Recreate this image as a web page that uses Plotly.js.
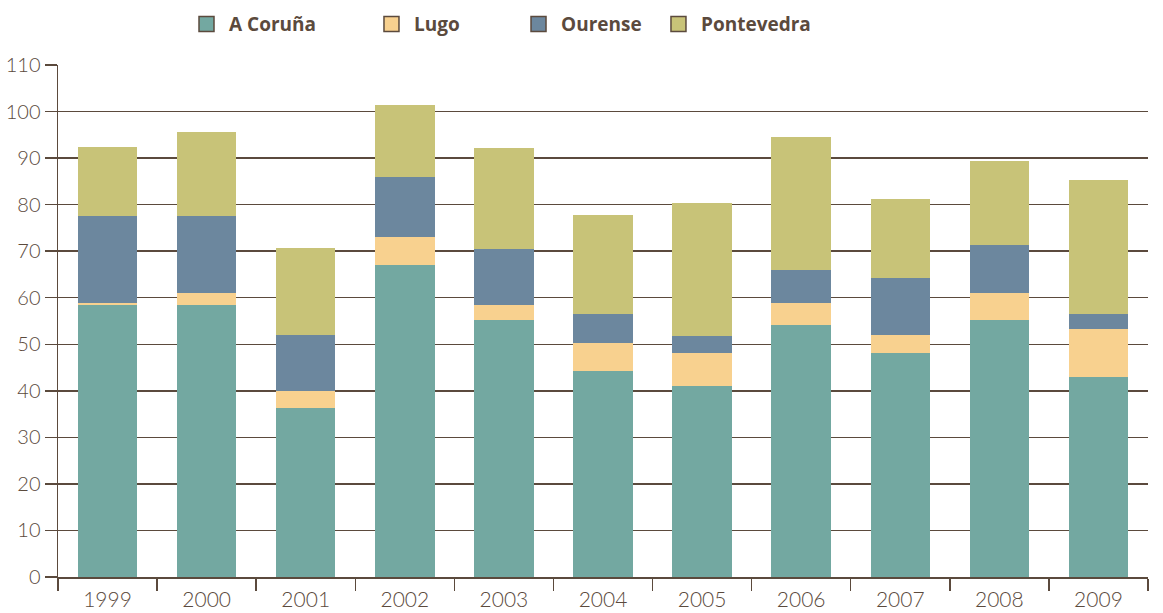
<!DOCTYPE html>
<html>
<head>
<meta charset="utf-8">
<script src="https://cdn.plot.ly/plotly-3.0.1.min.js"></script>
<style>
html, body { margin: 0; padding: 0; background: #ffffff; }
#chart { width: 1163px; height: 613px; }
</style>
</head>
<body>
<div id="chart"></div>
<script>
const years = ["1999", "2000", "2001", "2002", "2003", "2004", "2005", "2006", "2007", "2008", "2009"];
const seriesNames = ["A Coruña", "Lugo", "Ourense", "Pontevedra"];
const aCoruna    = [58.5, 58.5, 36.3, 67.1, 55.3, 44.3, 41.1, 54.2, 48.2, 55.3, 43.0];
const lugo       = [0.4, 2.6, 3.7, 6.0, 3.2, 6.0, 7.1, 4.7, 3.9, 5.8, 10.3];
const ourense    = [18.6, 16.4, 12.0, 12.9, 11.9, 6.1, 3.6, 7.1, 12.2, 10.3, 3.1];
const pontevedra = [14.8, 18.0, 18.6, 15.3, 21.7, 21.3, 28.5, 28.5, 17.0, 18.0, 29.0];
const yTicks = [0, 10, 20, 30, 40, 50, 60, 70, 80, 90, 100, 110];

const colors = ["#73a8a1", "#f8d18f", "#6c879e", "#c8c378"];
const brown = "#5b4a3d";
const values = [aCoruna, lugo, ourense, pontevedra];
const legendIds = ["legend", "legend2", "legend3", "legend4"];
// legend left positions in paper fraction
const legendX = [0.1156, 0.2853, 0.4202, 0.5486];

const traces = [];
values.forEach((v, i) => {
  traces.push({
    type: "bar",
    x: years,
    y: v,
    name: seriesNames[i],
    marker: { color: colors[i], line: { width: 0 } },
    width: 0.6,
    showlegend: false
  });
});
values.forEach((v, i) => {
  traces.push({
    type: "scatter",
    mode: "markers",
    x: [years[0]],
    y: [null],
    name: seriesNames[i],
    legend: legendIds[i],
    marker: { symbol: "square", size: 15, color: colors[i], line: { width: 1.5, color: brown } },
    showlegend: true,
    hoverinfo: "skip"
  });
});

const legendFont = { family: "'Open Sans', 'DejaVu Sans', sans-serif", size: 19, color: brown, weight: 700 };

const layout = {
  width: 1163,
  height: 613,
  barmode: "stack",
  paper_bgcolor: "#ffffff",
  plot_bgcolor: "#ffffff",
  margin: { l: 58, r: 15, t: 65, b: 36, pad: 0, autoexpand: false },
  font: { family: "Lato, 'Open Sans', sans-serif", color: brown, size: 19 },
  showlegend: true,
  xaxis: {
    type: "category",
    categoryarray: years,
    range: [-0.5, years.length - 0.5],
    autorange: false,
    tickson: "boundaries",
    ticks: "outside",
    ticklen: 12,
    tickwidth: 1.5,
    tickcolor: brown,
    showline: true,
    linecolor: brown,
    linewidth: 1.5,
    showgrid: false,
    ticklabelstandoff: 3,
    tickfont: { family: "Lato, 'Open Sans', sans-serif", size: 21, color: brown, weight: 300 },
    fixedrange: true
  },
  yaxis: {
    range: [0, 110],
    autorange: false,
    tickvals: yTicks,
    ticktext: yTicks.map(String),
    ticks: "outside",
    ticklen: 12,
    tickwidth: 1.5,
    tickcolor: brown,
    showline: true,
    linecolor: brown,
    linewidth: 1.5,
    showgrid: true,
    gridcolor: brown,
    gridwidth: 1.5,
    zeroline: false,
    tickfont: { family: "Lato, 'Open Sans', sans-serif", size: 20, color: brown, weight: 300 },
    fixedrange: true
  }
};

legendIds.forEach((id, i) => {
  layout[id] = {
    orientation: "h",
    x: legendX[i],
    xanchor: "left",
    y: 1.08,
    yanchor: "middle",
    font: legendFont,
    itemsizing: "trace",
    itemwidth: 35,
    bgcolor: "rgba(0,0,0,0)",
    borderwidth: 0
  };
});

Plotly.newPlot("chart", traces, layout, { displayModeBar: false, staticPlot: true });
</script>
</body>
</html>
